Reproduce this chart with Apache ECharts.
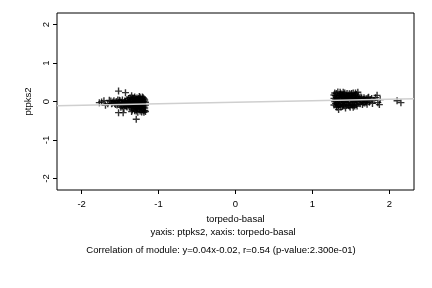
<!DOCTYPE html>
<html><head><meta charset="utf-8">
<script src="https://cdn.jsdelivr.net/npm/echarts@6/dist/echarts.min.js"></script>
<style>html,body{margin:0;padding:0;background:#fff}#c{width:432px;height:288px}</style>
</head><body><div id="c"></div>
<script>
// Data
const leftCluster = [
[-1.77,-0.03],[-1.74,-0.01],[-1.71,0.02],[-1.69,-0.10],[-1.66,-0.06],[-1.64,0.03],[-1.62,0.01],[-1.60,-0.04],[-1.58,0.02],[-1.56,-0.08],
[-1.52,0.27],[-1.43,0.23],[-1.52,-0.29],[-1.46,-0.29],[-1.29,-0.46],[-1.35,0.15],
[-1.55,0.00],[-1.53,-0.05],[-1.51,0.03],[-1.50,-0.10],[-1.48,-0.02],[-1.47,0.04],[-1.45,-0.07],[-1.44,0.01],[-1.42,-0.12],[-1.41,0.05],[-1.40,-0.04],[-1.49,-0.15],[-1.45,-0.18],
[-1.57,-0.05],[-1.54,-0.09],[-1.52,-0.03],[-1.50,0.02],[-1.48,-0.08],[-1.46,-0.04],[-1.44,-0.10],[-1.43,0.00],[-1.42,-0.06],[-1.40,0.02],[-1.47,-0.12],[-1.53,0.04],[-1.59,-0.01],[-1.61,-0.06],
[-1.39,0.08],[-1.38,-0.06],[-1.37,0.10],[-1.36,-0.15],[-1.35,0.02],[-1.34,-0.22],[-1.33,0.06],[-1.32,-0.10],[-1.31,0.12],[-1.30,-0.03],[-1.29,-0.25],[-1.28,0.09],[-1.27,-0.13],[-1.26,0.03],[-1.25,-0.19],[-1.24,0.11],[-1.23,-0.07],[-1.22,-0.27],[-1.21,0.05],[-1.20,-0.16],[-1.19,0.00],[-1.18,-0.23],[-1.17,-0.09],
[-1.38,0.01],[-1.36,-0.08],[-1.34,0.09],[-1.33,-0.17],[-1.31,-0.05],[-1.30,0.07],[-1.28,-0.20],[-1.27,0.01],[-1.25,-0.11],[-1.24,-0.25],[-1.23,0.07],[-1.21,-0.21],[-1.20,0.10],[-1.19,-0.12],[-1.18,0.04],[-1.22,-0.02],[-1.26,-0.06],[-1.29,0.04],[-1.32,0.00],[-1.35,-0.12],[-1.37,-0.02],[-1.39,-0.10],[-1.41,-0.14],[-1.43,-0.09],[-1.19,-0.28],[-1.23,-0.15],[-1.27,-0.28],[-1.31,-0.24],[-1.35,-0.26],
[-1.38,-0.13],[-1.36,0.05],[-1.34,-0.04],[-1.33,-0.08],[-1.32,0.09],[-1.30,-0.14],[-1.29,-0.07],[-1.28,0.00],[-1.27,-0.18],[-1.26,0.08],[-1.25,-0.03],[-1.24,-0.14],[-1.23,0.02],[-1.22,-0.11],[-1.21,-0.05],[-1.20,-0.24],[-1.19,0.07],[-1.18,-0.17],[-1.17,-0.02],[-1.17,-0.26],[-1.21,0.12],[-1.25,0.13],[-1.29,-0.17],[-1.33,-0.13]
];
const rightCluster = [
[1.29,0.22],[1.30,-0.05],[1.31,0.10],[1.32,-0.15],[1.33,0.25],[1.34,0.02],[1.34,-0.21],[1.35,0.15],[1.36,-0.09],[1.37,0.20],[1.38,0.05],[1.39,-0.13],[1.40,0.24],[1.41,-0.02],[1.42,0.12],[1.43,-0.17],[1.44,0.07],[1.45,0.21],[1.46,-0.07],[1.47,0.16],[1.48,-0.12],[1.49,0.03],[1.50,0.19],[1.51,-0.04],[1.52,0.10],[1.53,-0.15],[1.54,0.14],[1.55,0.00],[1.56,0.22],[1.57,-0.08],[1.58,0.09],[1.59,0.24],[1.60,-0.03],
[1.29,0.00],[1.30,0.15],[1.31,-0.12],[1.32,0.06],[1.33,-0.04],[1.35,0.09],[1.36,0.18],[1.37,-0.14],[1.38,0.13],[1.40,-0.08],[1.41,0.18],[1.42,0.01],[1.44,-0.10],[1.45,0.11],[1.47,0.03],[1.48,0.20],[1.49,-0.15],[1.51,0.15],[1.52,0.04],[1.54,-0.09],[1.55,0.17],[1.57,0.06],[1.58,-0.12],[1.28,0.08],[1.28,-0.09],[1.39,0.01],[1.43,0.09],[1.46,0.14],[1.50,-0.09],[1.53,0.22],[1.56,0.04],
[1.28,0.17],[1.30,0.04],[1.31,0.21],[1.32,-0.08],[1.33,0.12],[1.34,-0.10],[1.35,0.03],[1.36,0.24],[1.37,0.07],[1.38,-0.05],[1.39,0.17],[1.40,0.10],[1.41,-0.11],[1.42,0.22],[1.43,0.03],[1.44,0.15],[1.45,-0.03],[1.46,0.05],[1.47,-0.10],[1.48,0.10],[1.49,0.14],[1.50,0.06],[1.51,0.21],[1.52,-0.10],[1.53,0.02],[1.54,0.07],[1.55,-0.12],[1.56,0.12],[1.57,0.18],[1.58,0.01],[1.59,0.13],[1.60,0.07],
[1.61,0.08],[1.62,-0.06],[1.63,0.12],[1.64,0.00],[1.65,-0.08],[1.66,0.05],[1.67,0.10],[1.68,-0.04],[1.69,0.02],[1.70,0.07],[1.71,-0.07],[1.72,0.03],[1.73,0.11],[1.74,-0.02],[1.75,0.05],[1.77,0.08],[1.78,-0.05],[1.80,0.03],[1.82,0.10],[1.84,0.16],[1.85,-0.03],[1.87,-0.08],[1.88,0.05],[2.10,0.02],[2.15,-0.03],
[1.62,0.02],[1.64,0.09],[1.66,-0.03],[1.68,0.06],[1.70,-0.02],[1.72,0.09]
];
const fitSlope = 0.04;
const fitIntercept = -0.02;
const xRange = [-2.32, 2.32];
const yRange = [-2.3, 2.3];
const xTicks = [-2, -1, 0, 1, 2];
const yTicks = [-2, -1, 0, 1, 2];
const xName = 'torpedo-basal';
const yName = 'ptpks2';
const subLine1 = 'yaxis: ptpks2, xaxis: torpedo-basal';
const subLine2 = 'Correlation of module: y=0.04x-0.02, r=0.54 (p-value:2.300e-01)';

const fitLine = xRange.map(x => [x, fitSlope * x + fitIntercept]);
const plusPath = 'path://M4,0H6V4H10V6H6V10H4V6H0V4H4Z';
const font = 'Liberation Sans, Arial, Helvetica, sans-serif';

const chart = echarts.init(document.getElementById('c'), null, {renderer: 'canvas'});
chart.setOption({
  animation: false,
  backgroundColor: '#fff',
  grid: {left: 57, right: 18, top: 13, bottom: 98, show: true, borderColor: '#000', borderWidth: 1, backgroundColor: 'transparent'},
  xAxis: {
    type: 'value', min: xRange[0], max: xRange[1],
    name: xName, nameLocation: 'middle', nameGap: 21,
    nameTextStyle: {fontFamily: font, fontSize: 9.5, color: '#000'},
    axisLine: {show: false, onZero: false},
    splitLine: {show: false},
    axisTick: {show: true, inside: false, length: 4, lineStyle: {color: '#000'}, customValues: xTicks},
    axisLabel: {fontFamily: font, fontSize: 9.5, color: '#000', margin: 9, customValues: xTicks}
  },
  yAxis: {
    type: 'value', min: yRange[0], max: yRange[1],
    name: yName, nameLocation: 'middle', nameGap: 17, nameRotate: 90,
    nameTextStyle: {fontFamily: font, fontSize: 9.5, color: '#000'},
    axisLine: {show: false, onZero: false},
    splitLine: {show: false},
    axisTick: {show: true, inside: false, length: 4, lineStyle: {color: '#000'}, customValues: yTicks},
    axisLabel: {fontFamily: font, fontSize: 9.5, color: '#000', margin: 6, rotate: 90, customValues: yTicks}
  },
  graphic: [
    {type: 'text', x: 223, y: 227, style: {text: subLine1, font: '9.5px ' + font, fill: '#000', textAlign: 'center'}},
    {type: 'text', x: 221, y: 245, style: {text: subLine2, font: '9.5px ' + font, fill: '#000', textAlign: 'center'}}
  ],
  series: [
    {type: 'scatter', data: leftCluster.concat(rightCluster), symbol: plusPath, symbolSize: 7,
     itemStyle: {color: '#000'}, z: 2, silent: true},
    {type: 'line', data: fitLine, showSymbol: false, symbol: 'none',
     lineStyle: {color: '#cfcfcf', width: 1.5}, z: 3, silent: true}
  ]
});
</script>
</body></html>
